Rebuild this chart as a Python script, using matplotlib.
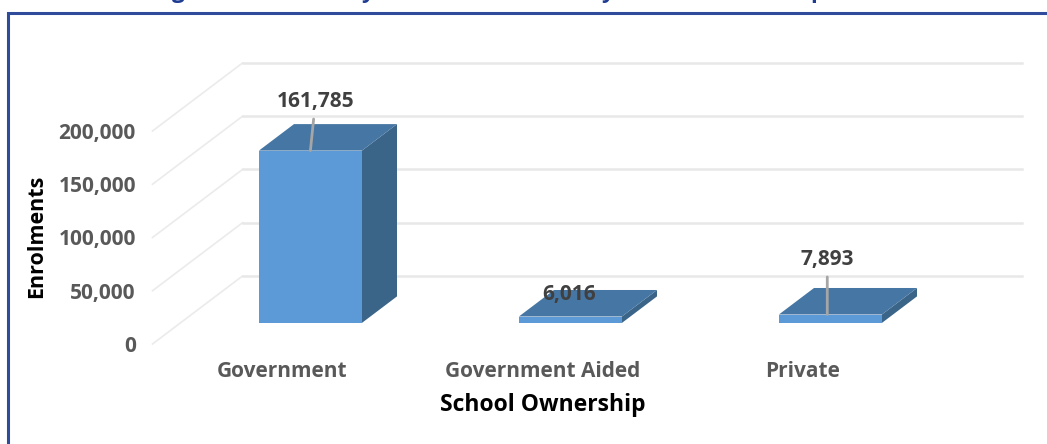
import numpy as np
import matplotlib
matplotlib.use("Agg")
import matplotlib.pyplot as plt
from matplotlib.lines import Line2D
from matplotlib.patches import Polygon

categories = ["Government", "Government Aided", "Private"]
enrolments = [161785, 6016, 7893]
labels = ["161,785", "6,016", "7,893"]
y_ticks = [0, 50000, 100000, 150000, 200000]
y_tick_labels = ["0", "50,000", "100,000", "150,000", "200,000"]

W, H = 1047, 444
plt.rcParams['font.family'] = ['Open Sans', 'DejaVu Sans']

fig = plt.figure(figsize=(W / 100, H / 100), dpi=100)
# axes is the front plane of the fake 3d box
ax = fig.add_axes([152.5 / W, (H - 344) / H, 780 / W, 213 / H])
ax.set_xlim(-0.5, 2.5)
ax.set_ylim(0, 200000)
for s in ax.spines.values():
    s.set_visible(False)
ax.patch.set_alpha(0)

# oblique offset for depth=1, in data units
dx = 90 / 260
dy = 68 * 200000 / 213
d0, d1 = 0.31, 0.70
bar_w = 103 / 260


def proj(x, v, d):
    return (x + d * dx, v + d * dy)


# gridlines
for v in y_ticks:
    x0, y0 = proj(-0.5, v, 0)
    x1, y1 = proj(-0.5, v, 1)
    x2, y2 = proj(2.5, v, 1)
    ax.plot([x0, x1], [y0, y1], color="#ebebeb", lw=1.2, clip_on=False, zorder=1)
    ax.plot([x1, x2], [y1, y2], color="#e8e8e8", lw=1.8, clip_on=False, zorder=1)

# bars
for i, v in enumerate(enrolments):
    l, r = i - bar_w / 2, i + bar_w / 2
    front = [proj(l, 0, d0), proj(r, 0, d0), proj(r, v, d0), proj(l, v, d0)]
    top = [proj(l, v, d0), proj(r, v, d0), proj(r, v, d1), proj(l, v, d1)]
    side = [proj(r, 0, d0), proj(r, 0, d1), proj(r, v, d1), proj(r, v, d0)]
    ax.add_patch(Polygon(side, fc="#3b6489", ec="none", clip_on=False, zorder=3))
    ax.add_patch(Polygon(top, fc="#4676a3", ec="none", clip_on=False, zorder=3))
    ax.add_patch(Polygon(front, fc="#5b9ad6", ec="none", clip_on=False, zorder=4))

# data labels, offsets in pixels from where the leader meets the bar
offsets = [(5, 49), (-1, 22), (0, 55)]
leader_shift = [0, 0, -0.012]
for i, v in enumerate(enrolments):
    xy = proj(i + leader_shift[i], v, d0)
    arrow = None
    if i != 1:
        arrow = dict(arrowstyle="-", color="#a6a6a6", lw=2, shrinkA=3, shrinkB=0)
    ax.annotate(labels[i], xy=xy, xytext=offsets[i], textcoords="offset pixels",
                ha="center", va="center", fontsize=15, fontweight="bold",
                color="#404040", arrowprops=arrow, zorder=6, annotation_clip=False)

ax.set_yticks(y_ticks)
ax.set_yticklabels(y_tick_labels, fontsize=15, fontweight="bold", color="#595959")
ax.set_xticks(range(len(categories)))
ax.set_xticklabels(categories, fontsize=15, fontweight="bold", color="#595959")
ax.tick_params(axis="y", length=0, pad=12)
ax.tick_params(axis="x", length=0, pad=12.5)

fig.text(37 / W, 1 - 236 / H, "Enrolments", rotation=90, ha="center", va="center",
         fontsize=15.5, fontweight="bold", color="black")
fig.text(543 / W, 1 - 405 / H, "School Ownership", ha="center", va="center",
         fontsize=16.5, fontweight="bold", color="black")

# outer frame, only left and top are in the crop
fig.add_artist(Line2D([8 / W, 8 / W, 1], [0, 1 - 13 / H, 1 - 13 / H],
                      color="#2f4b9b", lw=2.2, solid_joinstyle="miter"))

# title is cropped away, only descenders remain at the top edge
for ch, px in [("g", 178), ("y", 367), ("y", 607), ("p", 817)]:
    fig.text(px / W, 1 + 2 / H, ch, ha="center", va="baseline", fontsize=16,
             fontweight="bold", color="#1f3c93")

fig.savefig("out.png", dpi=100)
